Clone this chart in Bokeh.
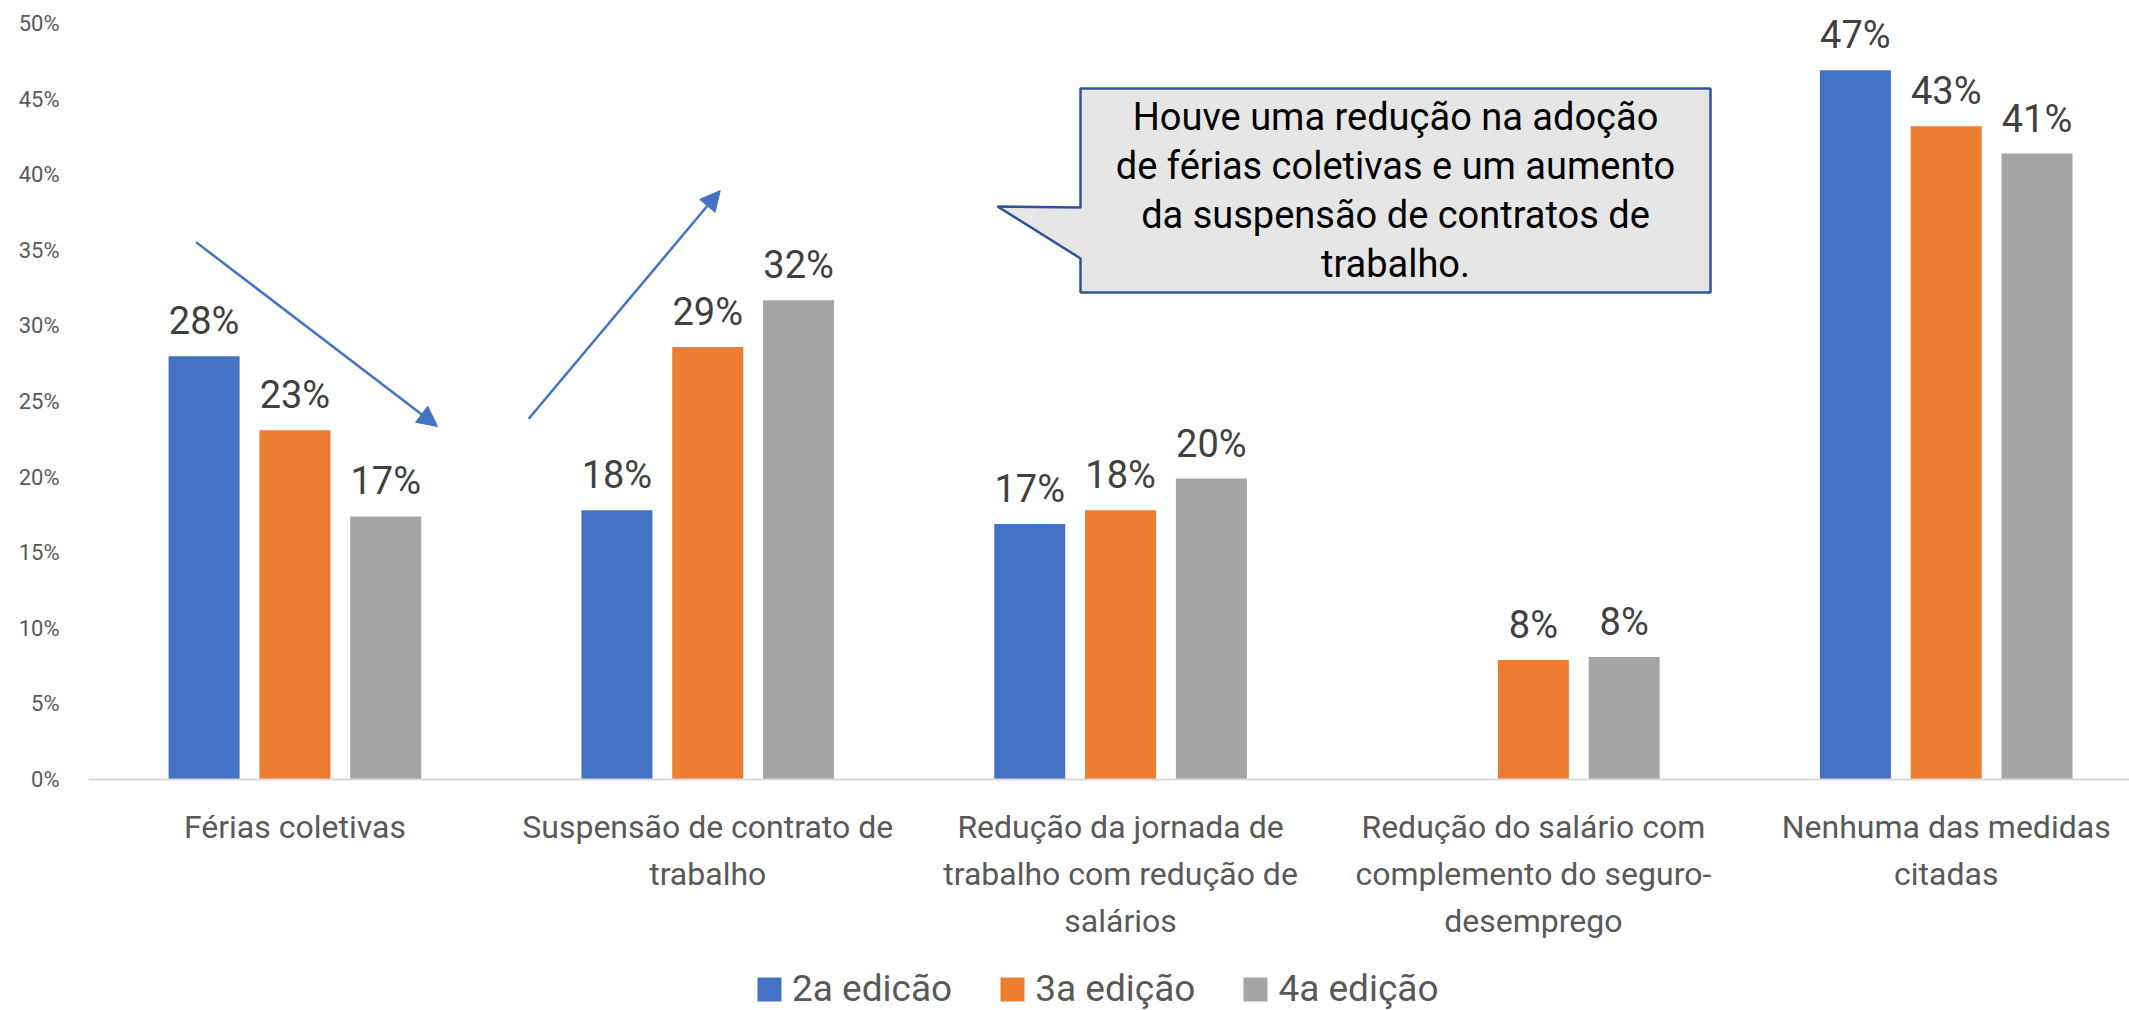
from bokeh.plotting import figure
from bokeh.layouts import column
from bokeh.models import (ColumnDataSource, Range1d, FixedTicker, NumeralTickFormatter,
                          Legend, LegendItem, Arrow, NormalHead)
from bokeh.core.properties import value
from bokeh.embed import file_html
from bokeh.resources import INLINE
import math

# ---------------- data ----------------
categories = [
    "Férias coletivas",
    "Suspensão de contrato de\ntrabalho",
    "Redução da jornada de\ntrabalho com redução de\nsalários",
    "Redução do salário com\ncomplemento do seguro-\ndesemprego",
    "Nenhuma das medidas\ncitadas",
]
series_names = ["2a edicão", "3a edição", "4a edição"]
edicao2 = [0.280, 0.178, 0.169, float("nan"), 0.469]
edicao3 = [0.231, 0.286, 0.178, 0.079, 0.432]
edicao4 = [0.174, 0.317, 0.199, 0.081, 0.414]
y_ticks = [0.0, 0.05, 0.10, 0.15, 0.20, 0.25, 0.30, 0.35, 0.40, 0.45, 0.50]
callout_text = ("Houve uma redução na adoção\nde férias coletivas e um aumento\n"
                "da suspensão de contratos de\ntrabalho.")

# ---------------- style ----------------
colors = ["#4472C4", "#ED7D31", "#A5A5A5"]
offsets = [-0.22, 0.0, 0.22]
bar_width = 0.172
FONT = "Roboto"

p = figure(width=2129, height=944, output_backend="svg", toolbar_location=None,
           x_range=Range1d(-0.5, 4.444), y_range=Range1d(0, 0.5152),
           min_border_left=88, min_border_right=0, min_border_top=0,
           min_border_bottom=165)
p.outline_line_color = None
p.xgrid.visible = False
p.ygrid.visible = False
p.background_fill_color = "white"
p.border_fill_color = "white"

series = [edicao2, edicao3, edicao4]
sources = []
for k, vals in enumerate(series):
    xs = [i + offsets[k] for i in range(len(categories))]
    src = ColumnDataSource(dict(x=xs, top=vals))
    sources.append(src)
    p.vbar(x="x", top="top", width=bar_width, bottom=0, source=src,
           fill_color=colors[k], line_color=None)
    lx, ly, lt = [], [], []
    for x, v in zip(xs, vals):
        if v is None or (isinstance(v, float) and math.isnan(v)):
            continue
        lx.append(x)
        ly.append(v)
        lt.append(f"{round(v * 100)}%")
    p.text(x=lx, y=ly, text=lt, text_align="center", text_baseline="alphabetic",
           y_offset=-35, text_font=value(FONT), text_font_size="38px",
           text_color="#404040")

# axes
p.yaxis.ticker = FixedTicker(ticks=y_ticks)
p.yaxis.formatter = NumeralTickFormatter(format="0%")
p.yaxis.axis_line_color = None
p.yaxis.major_tick_line_color = None
p.yaxis.minor_tick_line_color = None
p.yaxis.major_label_text_font = FONT
p.yaxis.major_label_text_font_size = "22px"
p.yaxis.major_label_text_color = "#595959"
p.yaxis.major_label_standoff = 23

p.xaxis.ticker = FixedTicker(ticks=list(range(len(categories))))
p.xaxis.major_label_overrides = {i: c for i, c in enumerate(categories)}
p.xaxis.axis_line_color = "#D9D9D9"
p.xaxis.axis_line_width = 2
p.xaxis.major_tick_line_color = None
p.xaxis.minor_tick_line_color = None
p.xaxis.major_label_text_font = FONT
p.xaxis.major_label_text_font_size = "32px"
p.xaxis.major_label_text_color = "#595959"
p.xaxis.major_label_text_line_height = 1.24
p.xaxis.major_label_standoff = 22

# arrows
head_kw = dict(size=20, fill_color="#4472C4", line_color="#4472C4")
p.add_layout(Arrow(end=NormalHead(**head_kw), x_start=-0.2396, y_start=0.3554,
                   x_end=0.3455, y_end=0.2335, line_color="#4472C4", line_width=2.5))
p.add_layout(Arrow(end=NormalHead(**head_kw), x_start=0.5664, y_start=0.2386,
                   x_end=1.0303, y_end=0.3895, line_color="#4472C4", line_width=2.5))

# callout bubble
bx = [1.903, 3.429, 3.429, 1.903, 1.903, 1.702, 1.903]
by = [0.457, 0.457, 0.3221, 0.3221, 0.3446, 0.379, 0.3783]
p.patch(bx, by, fill_color="#E7E6E6", line_color="#2F5597", line_width=2.5)
p.text(x=[2.666], y=[0.3896], text=[callout_text], text_align="center",
       text_baseline="middle", text_font=value(FONT), text_font_size="38px",
       text_line_height=1.11, text_color="black")

# ---------------- legend strip (below the chart) ----------------
pl = figure(width=2129, height=66, output_backend="svg", toolbar_location=None,
            x_range=Range1d(100, 101), y_range=Range1d(100, 101),
            min_border_left=0, min_border_right=0, min_border_top=0, min_border_bottom=0)
pl.xaxis.visible = False
pl.yaxis.visible = False
pl.xgrid.visible = False
pl.ygrid.visible = False
pl.outline_line_color = None
# same series sources; the bars lie far outside this strip's ranges, only the swatches show
swatches = [pl.vbar(x="x", top="top", width=bar_width, bottom=0, source=s,
                    fill_color=c, line_color=None) for s, c in zip(sources, colors)]
legend = Legend(items=[LegendItem(label=n, renderers=[r]) for n, r in zip(series_names, swatches)],
                orientation="horizontal", location=(666, 0),
                label_text_font=FONT, label_text_font_size="37px",
                label_text_color="#595959", glyph_width=30, glyph_height=30,
                label_height=30, label_standoff=8, spacing=45, padding=0, margin=0,
                border_line_color=None, background_fill_alpha=0)
pl.add_layout(legend, "center")

layout = column(p, pl, spacing=0)
open("out.html", "w").write(file_html(layout, INLINE))
